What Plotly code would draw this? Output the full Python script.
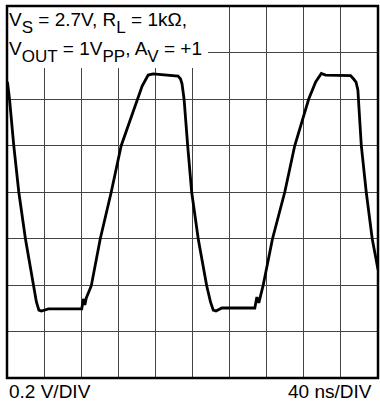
import plotly.graph_objects as go

# Scope trace: time in ns, output voltage in V (centred on screen)
t_ns = [0.5, 2.7, 7.3, 12.7, 19.9, 28.2, 31.7, 34.4, 37.1, 44.6,
        80.6, 82.3, 83.9, 85.5, 88.2, 90.9, 100.5, 112.4, 123.1, 140.3,
        145.7, 152.2, 157.5, 184.4, 187.1, 188.7, 190.9, 194.8, 199.1, 206.2,
        215.3, 219.4, 222.4, 225.3, 231.7, 267.2, 269.4, 271.5, 273.7, 276.1,
        286.2, 299.5, 310.2, 325.3, 332.8, 338.9, 343.5, 370.4, 373.7, 376.3,
        378.3, 380.1, 382.0, 387.3, 393.8, 400.0]
v_out = [0.473, 0.400, 0.199, 0.0, -0.202, -0.403, -0.473, -0.508, -0.512, -0.503,
         -0.503, -0.460, -0.486, -0.456, -0.430, -0.403, -0.202, 0.0, 0.199, 0.400,
         0.456, 0.503, 0.508, 0.499, 0.486, 0.465, 0.400, 0.199, 0.0, -0.202,
         -0.403, -0.473, -0.508, -0.512, -0.499, -0.499, -0.452, -0.477, -0.447, -0.403,
         -0.202, 0.0, 0.199, 0.400, 0.473, 0.510, 0.503, 0.501, 0.486, 0.473,
         0.439, 0.310, 0.199, 0.0, -0.202, -0.333]

x_div_ns = 40      # 40 ns/DIV, 10 divisions
y_div_v = 0.2      # 0.2 V/DIV, 8 divisions
n_xdiv = 10
n_ydiv = 8

FONT = "Liberation Sans, Arial, sans-serif"
W, H = 380, 406
ML, MR, MT, MB = 7, 2, 6, 28
PW, PH = W - ML - MR, H - MT - MB


def px_x(p):
    return (p - ML) / PW


def px_y(p):
    return 1 - (p - MT) / PH


def lo(s):
    # lowered, nearly full-size subscript
    return "<sub><sub><span style='font-size:17px'>%s</span></sub></sub>" % s


line1 = "V" + lo("S") + " = 2.7V, R" + lo("L") + " = 1kΩ,"
line2 = "V" + lo("OUT") + " = 1V" + lo("PP") + ", A" + lo("V") + " = +1"

fig = go.Figure()
fig.add_trace(go.Scatter(x=t_ns, y=v_out, mode="lines",
                         line=dict(color="black", width=2.8),
                         hoverinfo="skip", showlegend=False))

grid = dict(showgrid=True, gridcolor="#444444", gridwidth=1.3,
            zeroline=False, showticklabels=False, ticks="",
            showline=False, fixedrange=True)
fig.update_xaxes(range=[0, x_div_ns * n_xdiv], dtick=x_div_ns, tick0=0, **grid)
fig.update_yaxes(range=[-y_div_v * n_ydiv / 2, y_div_v * n_ydiv / 2],
                 dtick=y_div_v, tick0=0, **grid)

shapes = [
    # white label panel over the grid
    dict(type="rect", xref="paper", yref="paper",
         x0=0, x1=px_x(208), y0=px_y(68), y1=1,
         fillcolor="white", line=dict(width=0), layer="above"),
    # screen frame
    dict(type="rect", xref="paper", yref="paper", x0=0, x1=1, y0=0, y1=1,
         line=dict(color="black", width=2.5), layer="above"),
]

annotations = [
    dict(text=line1, x=px_x(7), y=px_y(7.0), xanchor="left", yanchor="top"),
    dict(text=line2, x=px_x(7), y=px_y(35.5), xanchor="left", yanchor="top"),
    dict(text="0.2 V/DIV", x=px_x(7), y=px_y(378.8), xanchor="left", yanchor="top"),
    dict(text="40 ns/DIV", x=px_x(374), y=px_y(378.8), xanchor="right", yanchor="top"),
]
for a in annotations:
    a.update(xref="paper", yref="paper", showarrow=False, align="left",
             font=dict(family=FONT, size=19, color="black"))

fig.update_layout(width=W, height=H,
                  margin=dict(l=ML, r=MR, t=MT, b=MB, pad=0),
                  paper_bgcolor="white", plot_bgcolor="white",
                  shapes=shapes, annotations=annotations)

fig.write_html("out.html", include_plotlyjs=True, full_html=True,
               config={"displayModeBar": False})
